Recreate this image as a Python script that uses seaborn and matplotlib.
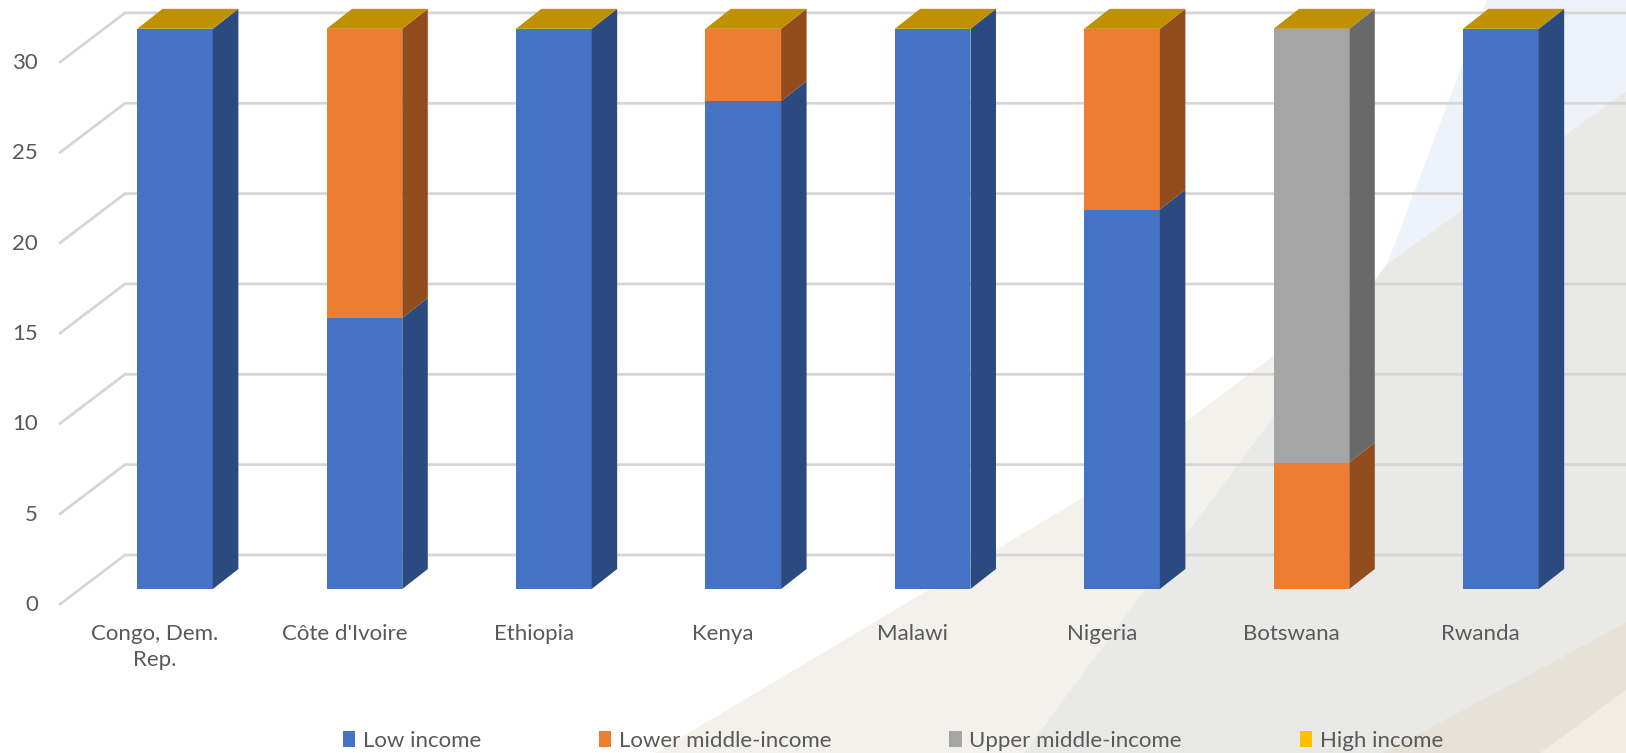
# Income group of 8 African countries (3D-look stacked columns)

import numpy as np
import matplotlib
matplotlib.use('Agg')
import matplotlib.pyplot as plt
from matplotlib.patches import Polygon
import seaborn as sns

sns.set_style('white')
plt.rcParams['font.family'] = ['Lato', 'DejaVu Sans']

## data
countries = ['Congo, Dem.\nRep.', "Côte d'Ivoire", 'Ethiopia', 'Kenya',
             'Malawi', 'Nigeria', 'Botswana', 'Rwanda']
low_income = [31, 15, 31, 27, 31, 21, 0, 31]
lower_middle = [0, 16, 0, 4, 0, 10, 7, 0]
upper_middle = [0, 0, 0, 0, 0, 0, 24, 0]
high_income = [0, 0, 0, 0, 0, 0, 0, 0]
series_names = ['Low income', 'Lower middle-income', 'Upper middle-income', 'High income']
yticks = [0, 5, 10, 15, 20, 25, 30]

front_cols = ['#4472c4', '#ed7d31', '#a5a5a5', '#ffc000']
side_cols = ['#2b4a7f', '#934c1d', '#696969', '#9c7600']
top_col = '#bf9000'
txt_col = '#595959'
grid_col = '#d6d6d6'

## geometry (pixels)
W, H = 1626, 753
x0, step = 175, 189.4      # px of first category, px between categories
y0, ppu = 589, 18.07       # px of value 0 on bar front, px per unit
bar_w = 0.40
ddx, ddy = 25.5 / step, 20 / ppu          # bar depth
wall_x, wall_dy = (125 - x0) / step, 34 / ppu
floor_x, floor_dy = (59 - x0) / step, -16 / ppu

fig = plt.figure(figsize=(W / 100, H / 100), dpi=100)

# slide background shapes
bg = fig.add_axes([0, 0, 1, 1], zorder=0)
bg.set_xlim(0, W)
bg.set_ylim(H, 0)
bg.axis('off')
bg.add_patch(Polygon([(1626, 91), (1626, 753), (655, 753), (1091, 493)], color='#f2f1ec', lw=0))
bg.add_patch(Polygon([(1626, 91), (1626, 753), (1024, 753), (1387, 264)], color='#e9e9e8', lw=0))
bg.add_patch(Polygon([(1487, 0), (1626, 0), (1626, 91), (1387, 264)], color='#eef2fa', lw=0))
bg.add_patch(Polygon([(1626, 623), (1626, 753), (1383, 753)], color='#e6e2d8', lw=0))
bg.add_patch(Polygon([(1626, 690), (1626, 753), (1540, 753)], color='#f3ece2', lw=0))

ax = fig.add_axes([0, 0, 1, 1], zorder=1)
ax.patch.set_visible(False)

values = [low_income, lower_middle, upper_middle, high_income]
bottoms = np.vstack([np.zeros(len(countries)), np.cumsum(values, axis=0)[:-1]])

for k, name in enumerate(series_names):
    sns.barplot(x=countries, y=values[k], bottom=bottoms[k], color=front_cols[k],
                width=bar_w, saturation=1, linewidth=0, label=name, ax=ax, zorder=3)
if ax.get_legend() is not None:
    ax.get_legend().remove()

# side faces
for k in range(len(values)):
    for i in range(len(countries)):
        b, t = bottoms[k][i], bottoms[k][i] + values[k][i]
        if t <= b:
            continue
        xr = i + bar_w / 2
        ax.add_patch(Polygon([(xr, b), (xr + ddx, b + ddy), (xr + ddx, t + ddy), (xr, t)],
                             color=side_cols[k], lw=0, zorder=3))

# top faces
totals = np.sum(values, axis=0)
for i, t in enumerate(totals):
    xl, xr = i - bar_w / 2, i + bar_w / 2
    ax.add_patch(Polygon([(xl, t), (xr, t), (xr + ddx, t + ddy), (xl + ddx, t + ddy)],
                         color=top_col, lw=0, zorder=3))

ax.set_xlim(-x0 / step, (W - x0) / step)
ax.set_ylim((y0 - H) / ppu, y0 / ppu)

# gridlines: back wall and side wall
for v in yticks:
    ax.plot([floor_x, wall_x, ax.get_xlim()[1]], [v + floor_dy, v + wall_dy, v + wall_dy],
            color=grid_col, lw=2, zorder=1, solid_capstyle='butt')
    ax.text((38 - x0) / step, v + floor_dy, str(v), ha='right', va='center',
            fontsize=16, color=txt_col)

for i, c in enumerate(countries):
    ax.text(i - 20 / step, (y0 - 624) / ppu, c, ha='center', va='top', fontsize=16,
            color=txt_col, linespacing=1.35)

ax.axis('off')

handles, labels = ax.get_legend_handles_labels()
fig.legend(handles, labels, ncol=4, loc='center left',
           bbox_to_anchor=(332 / W, 12 / H), bbox_transform=fig.transFigure,
           frameon=False, fontsize=16, labelcolor=txt_col, borderpad=0,
           handlelength=0.55, handleheight=0.7, handletextpad=0.35, columnspacing=5.3)

plt.savefig('out.png', dpi=100)
